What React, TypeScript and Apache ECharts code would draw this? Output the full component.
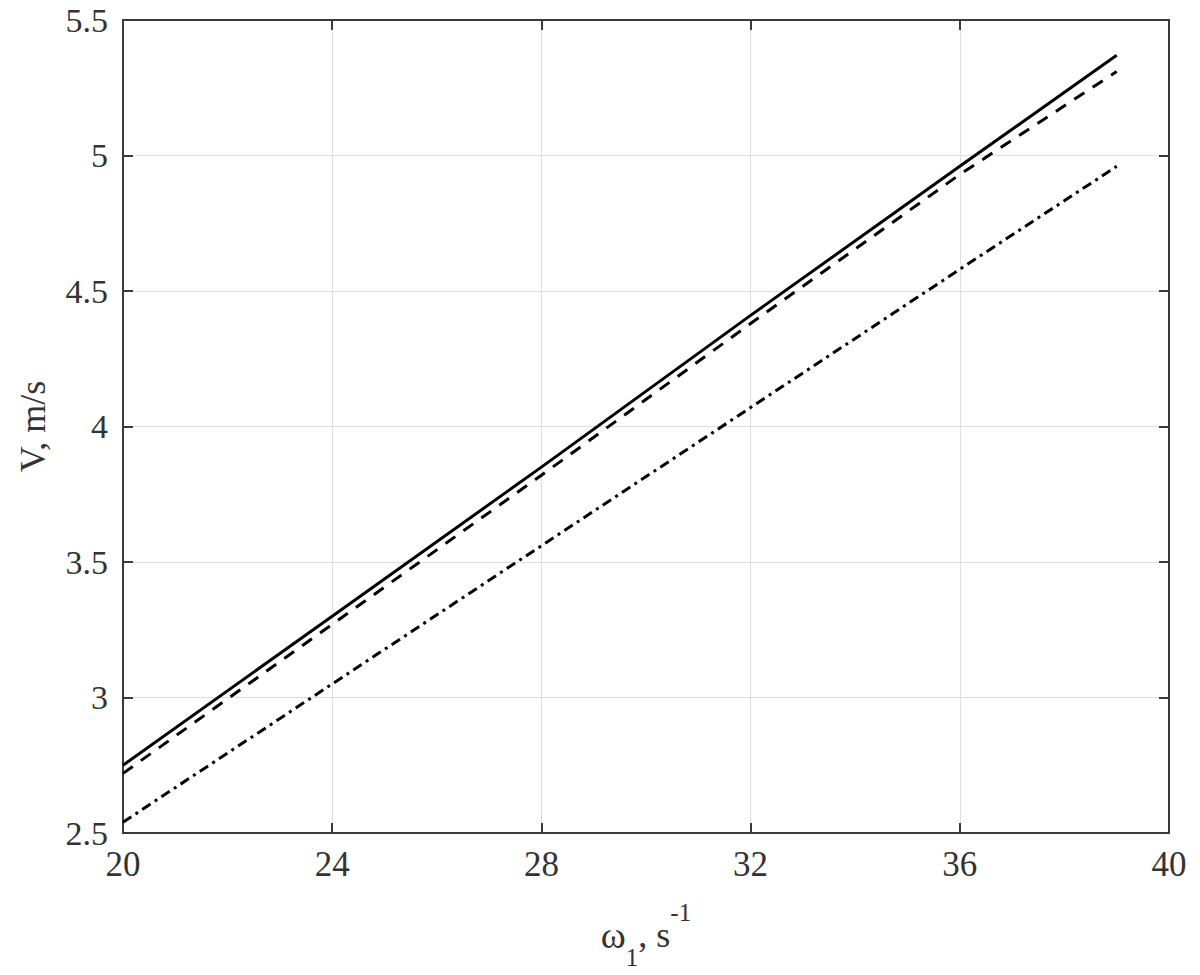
import React, { useEffect, useRef } from "react";
import * as echarts from "echarts";

// Angular speed ω1 (s^-1)
const omega = [20, 24, 28, 32, 36, 39];
// Velocity V (m/s) for the three curves
const vSolid = [2.75, 3.3, 3.85, 4.41, 4.96, 5.37];
const vDashed = [2.72, 3.27, 3.82, 4.38, 4.93, 5.31];
const vDashDot = [2.54, 3.05, 3.56, 4.07, 4.58, 4.96];

const xMin = 20;
const xMax = 40;
const xStep = 4;
const yMin = 2.5;
const yMax = 5.5;
const yStep = 0.5;

const FONT = '"Liberation Serif", "Times New Roman", serif';
const AXIS_COLOR = "#3a3a3a";
const GRID_COLOR = "#dedede";

const pairs = (xs: number[], ys: number[]) => xs.map((x, i) => [x, ys[i]]);

export default function App() {
  const ref = useRef<HTMLDivElement>(null);

  useEffect(() => {
    if (!ref.current) return;
    const chart = echarts.init(ref.current, undefined, { renderer: "svg" });

    const baseAxisLine = { show: true, lineStyle: { color: AXIS_COLOR, width: 2 } };
    const baseTick = { show: true, inside: true, length: 10, lineStyle: { color: AXIS_COLOR, width: 2 } };

    chart.setOption({
      animation: false,
      backgroundColor: "#ffffff",
      grid: { left: 123, right: 31, top: 20, bottom: 134, containLabel: false },
      xAxis: [
        {
          type: "value",
          min: xMin,
          max: xMax,
          interval: xStep,
          position: "bottom",
          axisLine: baseAxisLine,
          axisTick: baseTick,
          splitLine: { show: true, lineStyle: { color: GRID_COLOR, width: 1 } },
          axisLabel: { color: "#333", fontFamily: FONT, fontSize: 35, margin: 14 },
          name: "{w|ω}{sub|1}{n|, s}{sup|-1}",
          nameLocation: "middle",
          nameGap: 67,
          nameTextStyle: {
            fontFamily: FONT,
            color: "#333",
            rich: {
              w: { fontFamily: FONT, fontSize: 38, color: "#333", lineHeight: 70, verticalAlign: "middle" },
              n: { fontFamily: FONT, fontSize: 36, color: "#333", lineHeight: 70, verticalAlign: "middle" },
              sub: { fontFamily: FONT, fontSize: 25, color: "#333", lineHeight: 32, verticalAlign: "bottom" },
              sup: { fontFamily: FONT, fontSize: 25, color: "#333", lineHeight: 34, verticalAlign: "top" },
            },
          },
        },
        {
          type: "value",
          min: xMin,
          max: xMax,
          interval: xStep,
          position: "top",
          axisLine: baseAxisLine,
          axisTick: baseTick,
          splitLine: { show: false },
          axisLabel: { show: false },
        },
      ],
      yAxis: [
        {
          type: "value",
          min: yMin,
          max: yMax,
          interval: yStep,
          position: "left",
          axisLine: baseAxisLine,
          axisTick: baseTick,
          splitLine: { show: true, lineStyle: { color: GRID_COLOR, width: 1 } },
          axisLabel: { color: "#333", fontFamily: FONT, fontSize: 34, lineHeight: 34, margin: 15 },
          name: "V, m/s",
          nameLocation: "middle",
          nameGap: 72,
          nameTextStyle: { fontFamily: FONT, fontSize: 36, color: "#333" },
        },
        {
          type: "value",
          min: yMin,
          max: yMax,
          interval: yStep,
          position: "right",
          axisLine: baseAxisLine,
          axisTick: baseTick,
          splitLine: { show: false },
          axisLabel: { show: false },
        },
      ],
      series: [
        {
          type: "line",
          xAxisIndex: 0,
          yAxisIndex: 0,
          data: pairs(omega, vSolid),
          showSymbol: false,
          symbol: "none",
          lineStyle: { color: "#000", width: 3, type: "solid" },
        },
        {
          type: "line",
          xAxisIndex: 0,
          yAxisIndex: 0,
          data: pairs(omega, vDashed),
          showSymbol: false,
          symbol: "none",
          lineStyle: { color: "#000", width: 3, type: [12, 10] },
        },
        {
          type: "line",
          xAxisIndex: 0,
          yAxisIndex: 0,
          data: pairs(omega, vDashDot),
          showSymbol: false,
          symbol: "none",
          lineStyle: { color: "#000", width: 3, type: [10, 5, 3, 5] },
        },
      ],
    });

    return () => chart.dispose();
  }, []);

  return (
    <div
      ref={ref}
      style={{ position: "fixed", left: 0, top: 0, width: 1200, height: 975, background: "#fff" }}
    />
  );
}
